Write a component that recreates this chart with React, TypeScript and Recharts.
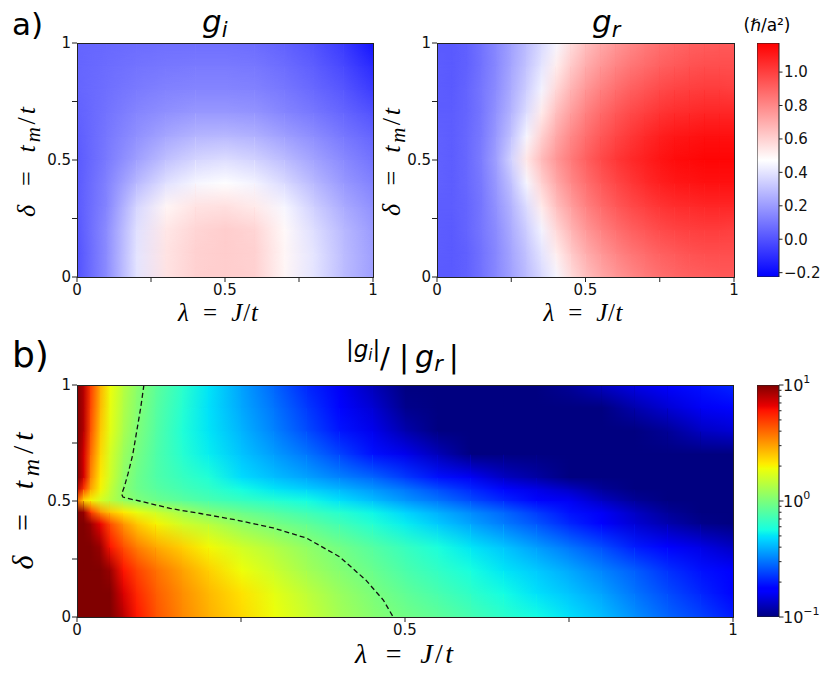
import React from 'react'
import { ScatterChart, Scatter, XAxis, YAxis, BarChart, Bar } from 'recharts'

// ---- values ----
const axisTicks = [0, 0.25, 0.5, 0.75, 1]

// a) g_i, rows from delta = 0 (bottom) to delta = 1 (top)
const lambdaGi = [0, 0.1, 0.2, 0.3, 0.4, 0.5, 0.6, 0.7, 0.8, 0.9, 1]
const deltaGi = [0, 0.1, 0.2, 0.3, 0.4, 0.5, 0.6, 0.7, 0.8, 0.9, 1]
const giGrid = [
  [0.0, 0.16, 0.4, 0.55, 0.6, 0.61, 0.6, 0.5, 0.4, 0.29, 0.21],
  [0.0, 0.16, 0.4, 0.55, 0.6, 0.61, 0.6, 0.5, 0.4, 0.29, 0.21],
  [0.01, 0.16, 0.39, 0.54, 0.59, 0.61, 0.59, 0.49, 0.38, 0.28, 0.2],
  [0.02, 0.14, 0.36, 0.5, 0.55, 0.56, 0.53, 0.45, 0.34, 0.24, 0.17],
  [0.02, 0.13, 0.28, 0.39, 0.45, 0.47, 0.44, 0.37, 0.28, 0.19, 0.13],
  [0.02, 0.11, 0.21, 0.3, 0.36, 0.38, 0.35, 0.29, 0.22, 0.15, 0.09],
  [0.03, 0.1, 0.17, 0.23, 0.27, 0.28, 0.26, 0.21, 0.16, 0.1, 0.05],
  [0.04, 0.09, 0.14, 0.17, 0.19, 0.19, 0.18, 0.14, 0.1, 0.05, 0.0],
  [0.05, 0.08, 0.11, 0.13, 0.14, 0.14, 0.13, 0.1, 0.06, 0.01, -0.06],
  [0.05, 0.07, 0.09, 0.1, 0.11, 0.11, 0.1, 0.07, 0.03, -0.03, -0.11],
  [0.05, 0.06, 0.07, 0.08, 0.08, 0.08, 0.07, 0.04, 0.0, -0.07, -0.17],
]

// a) g_r
const lambdaGr = [0, 0.05, 0.1, 0.15, 0.2, 0.25, 0.3, 0.35, 0.4, 0.45, 0.5, 0.55, 0.6, 0.65, 0.7, 0.75, 0.8, 0.85, 0.9, 0.95, 1]
const deltaGr = [0, 0.1, 0.2, 0.3, 0.4, 0.5, 0.6, 0.7, 0.8, 0.9, 1]
const grGrid = [
  [0.02, 0.02, 0.04, 0.09, 0.15, 0.22, 0.29, 0.37, 0.45, 0.57, 0.65, 0.71, 0.76, 0.8, 0.84, 0.87, 0.89, 0.91, 0.92, 0.93, 0.93],
  [0.03, 0.02, 0.04, 0.09, 0.15, 0.23, 0.31, 0.4, 0.52, 0.62, 0.7, 0.76, 0.81, 0.85, 0.88, 0.91, 0.93, 0.95, 0.96, 0.96, 0.96],
  [0.03, 0.02, 0.05, 0.1, 0.16, 0.25, 0.34, 0.44, 0.58, 0.68, 0.76, 0.82, 0.87, 0.91, 0.94, 0.97, 0.99, 1.0, 1.01, 1.01, 1.0],
  [0.03, 0.03, 0.05, 0.1, 0.18, 0.27, 0.38, 0.53, 0.65, 0.74, 0.82, 0.88, 0.93, 0.97, 1.0, 1.03, 1.05, 1.06, 1.07, 1.07, 1.07],
  [0.04, 0.03, 0.06, 0.11, 0.2, 0.31, 0.45, 0.6, 0.71, 0.8, 0.87, 0.93, 0.98, 1.02, 1.06, 1.09, 1.11, 1.12, 1.13, 1.13, 1.13],
  [0.04, 0.03, 0.06, 0.12, 0.22, 0.36, 0.54, 0.66, 0.76, 0.84, 0.91, 0.97, 1.02, 1.06, 1.09, 1.12, 1.14, 1.15, 1.16, 1.16, 1.16],
  [0.04, 0.03, 0.06, 0.11, 0.2, 0.31, 0.45, 0.6, 0.71, 0.8, 0.87, 0.93, 0.98, 1.02, 1.06, 1.09, 1.11, 1.12, 1.13, 1.13, 1.13],
  [0.03, 0.03, 0.05, 0.1, 0.18, 0.27, 0.38, 0.53, 0.65, 0.74, 0.82, 0.88, 0.93, 0.97, 1.0, 1.03, 1.05, 1.06, 1.07, 1.07, 1.07],
  [0.03, 0.02, 0.05, 0.1, 0.16, 0.25, 0.34, 0.44, 0.58, 0.68, 0.76, 0.82, 0.87, 0.91, 0.94, 0.97, 0.99, 1.0, 1.01, 1.01, 1.0],
  [0.03, 0.02, 0.04, 0.09, 0.15, 0.23, 0.31, 0.4, 0.52, 0.62, 0.7, 0.76, 0.81, 0.85, 0.88, 0.91, 0.93, 0.95, 0.96, 0.96, 0.96],
  [0.02, 0.02, 0.04, 0.09, 0.15, 0.22, 0.29, 0.37, 0.45, 0.57, 0.65, 0.71, 0.76, 0.8, 0.84, 0.87, 0.89, 0.91, 0.92, 0.93, 0.93],
]

// b) |g_i| / |g_r|
const lambdaRatio = [0, 0.01, 0.02, 0.035, 0.05, 0.07, 0.09, 0.12, 0.16, 0.2, 0.25, 0.3, 0.35, 0.4, 0.45, 0.5, 0.55, 0.6, 0.65, 0.7, 0.75, 0.8, 0.85, 0.9, 0.95, 1]
const deltaRatio = [0, 0.1, 0.2, 0.3, 0.4, 0.45, 0.5, 0.55, 0.6, 0.7, 0.8, 0.9, 1]
const ratioGrid = [
  [10, 10, 10, 10, 10, 8, 6, 4.4, 3.4, 2.8, 2.3, 1.9, 1.55, 1.25, 1.07, 0.95, 0.85, 0.74, 0.64, 0.56, 0.49, 0.42, 0.34, 0.28, 0.24, 0.2],
  [10, 10, 10, 10, 10, 7, 5.5, 4.2, 3.3, 2.7, 2.2, 1.8, 1.45, 1.18, 1.0, 0.86, 0.75, 0.65, 0.56, 0.49, 0.43, 0.37, 0.3, 0.25, 0.21, 0.18],
  [10, 10, 10, 10, 9, 6, 4.8, 3.8, 3.0, 2.4, 1.9, 1.55, 1.25, 1.05, 0.9, 0.76, 0.66, 0.57, 0.5, 0.44, 0.38, 0.32, 0.27, 0.22, 0.19, 0.17],
  [10, 10, 10, 9, 6, 4.5, 3.6, 2.9, 2.4, 1.95, 1.6, 1.35, 1.12, 0.95, 0.8, 0.68, 0.58, 0.5, 0.43, 0.36, 0.3, 0.25, 0.2, 0.17, 0.15, 0.13],
  [10, 10, 9, 6.5, 4.5, 3.2, 2.5, 2.0, 1.6, 1.4, 1.12, 0.97, 0.85, 0.72, 0.61, 0.52, 0.44, 0.37, 0.31, 0.26, 0.21, 0.17, 0.14, 0.12, 0.105, 0.095],
  [10, 9, 5, 3.2, 2.5, 2.1, 1.85, 1.55, 1.25, 1.03, 0.9, 0.8, 0.71, 0.62, 0.54, 0.46, 0.39, 0.33, 0.28, 0.23, 0.19, 0.16, 0.13, 0.11, 0.1, 0.09],
  [4, 2.3, 2.0, 1.65, 1.4, 1.15, 1.03, 0.92, 0.83, 0.75, 0.68, 0.62, 0.56, 0.49, 0.42, 0.35, 0.3, 0.25, 0.21, 0.18, 0.16, 0.13, 0.11, 0.1, 0.09, 0.085],
  [8, 5, 3, 2, 1.5, 1.08, 0.93, 0.82, 0.73, 0.66, 0.56, 0.5, 0.45, 0.4, 0.35, 0.3, 0.25, 0.21, 0.18, 0.15, 0.13, 0.11, 0.095, 0.085, 0.08, 0.08],
  [10, 7, 3.5, 2.1, 1.6, 1.12, 0.93, 0.78, 0.68, 0.6, 0.48, 0.42, 0.37, 0.32, 0.28, 0.23, 0.19, 0.16, 0.13, 0.115, 0.1, 0.09, 0.085, 0.08, 0.08, 0.08],
  [10, 7, 4, 2.3, 1.65, 1.2, 0.98, 0.78, 0.62, 0.52, 0.43, 0.36, 0.3, 0.24, 0.19, 0.155, 0.125, 0.1, 0.085, 0.075, 0.07, 0.07, 0.075, 0.08, 0.09, 0.1],
  [10, 8, 4.5, 2.5, 1.8, 1.3, 1.03, 0.8, 0.6, 0.5, 0.4, 0.32, 0.25, 0.195, 0.155, 0.12, 0.1, 0.085, 0.075, 0.07, 0.07, 0.075, 0.09, 0.11, 0.13, 0.14],
  [10, 8, 4.8, 2.7, 1.85, 1.35, 1.07, 0.82, 0.62, 0.49, 0.38, 0.3, 0.23, 0.18, 0.14, 0.105, 0.09, 0.08, 0.07, 0.065, 0.08, 0.095, 0.12, 0.14, 0.16, 0.18],
  [10, 8, 5, 2.8, 1.9, 1.4, 1.1, 0.85, 0.64, 0.5, 0.37, 0.28, 0.21, 0.16, 0.125, 0.1, 0.09, 0.08, 0.075, 0.085, 0.11, 0.13, 0.15, 0.17, 0.19, 0.21],
]

// dashed line where the ratio equals 1
const contourLambda = [0.102, 0.097, 0.091, 0.085, 0.078, 0.072, 0.068, 0.07, 0.076, 0.1, 0.142, 0.19, 0.243, 0.299, 0.35, 0.4, 0.44, 0.467, 0.482]
const contourDelta = [1.0, 0.9, 0.8, 0.7, 0.62, 0.56, 0.53, 0.517, 0.512, 0.497, 0.468, 0.445, 0.418, 0.384, 0.34, 0.26, 0.16, 0.073, 0.0]

// colorbars
const gRange = [-0.226, 1.174]
const gTicks = [-0.2, 0, 0.2, 0.4, 0.6, 0.8, 1.0]
const ratioRange = [0.1, 10]
const ratioTicks = [0.1, 0.2, 0.3, 0.4, 0.5, 0.6, 0.7, 0.8, 0.9, 1, 2, 3, 4, 5, 6, 7, 8, 9, 10]

// ---- colormaps ----
const clamp = (t: number) => Math.max(0, Math.min(1, t))
const rgb = (r: number, g: number, b: number) =>
  `rgb(${Math.round(r * 255)},${Math.round(g * 255)},${Math.round(b * 255)})`

const bwr = (v: number) => {
  const t = clamp((v - gRange[0]) / (gRange[1] - gRange[0]))
  return t < 0.5 ? rgb(2 * t, 2 * t, 1) : rgb(1, 2 - 2 * t, 2 - 2 * t)
}

const JET_R = [[0, 0], [0.35, 0], [0.66, 1], [0.89, 1], [1, 0.5]]
const JET_G = [[0, 0], [0.125, 0], [0.375, 1], [0.64, 1], [0.91, 0], [1, 0]]
const JET_B = [[0, 0.5], [0.11, 1], [0.34, 1], [0.65, 0], [1, 0]]
const piece = (pts: number[][], t: number) => {
  for (let k = 0; k < pts.length - 1; k++) {
    const [t0, c0] = pts[k]
    const [t1, c1] = pts[k + 1]
    if (t <= t1) return c0 + ((c1 - c0) * (t - t0)) / (t1 - t0)
  }
  return pts[pts.length - 1][1]
}
const jetT = (t: number) => rgb(piece(JET_R, t), piece(JET_G, t), piece(JET_B, t))
const logLo = Math.log10(ratioRange[0])
const logHi = Math.log10(ratioRange[1])
const jet = (v: number) => jetT(clamp((Math.log10(v) - logLo) / (logHi - logLo)))
const jetStops = [0, 0.11, 0.125, 0.34, 0.35, 0.375, 0.5, 0.64, 0.65, 0.66, 0.89, 0.91, 1]

// ---- layout ----
const YW = 40
const XH = 30
const PAD = 12
const INK = '#222'
const SANS = 'DejaVu Sans'
const SERIF = 'Liberation Serif'

const tickFmt = (v: number) => (v === 0.25 || v === 0.75 ? '' : v === 0.5 ? '0.5' : String(v))

function RowGradients({ id, grid, color }: { id: string; grid: number[][]; color: (v: number) => string }) {
  return (
    <>
      {grid.map((row, j) =>
        row.slice(0, -1).map((v, i) => (
          <linearGradient key={`${id}-${j}-${i}`} id={`${id}-${j}-${i}`} x1="0" y1="0" x2="1" y2="0">
            <stop offset="0" stopColor={color(v)} />
            <stop offset="1" stopColor={color(row[i + 1])} />
          </linearGradient>
        ))
      )}
    </>
  )
}

interface HeatProps {
  id: string
  xs: number[]
  ys: number[]
  left: number
  top: number
  w: number
  h: number
  children?: React.ReactNode
}

function HeatPanel({ id, xs, ys, left, top, w, h, children }: HeatProps) {
  const cells: any[] = []
  for (let j = 0; j < ys.length - 1; j++) {
    for (let i = 0; i < xs.length - 1; i++) {
      cells.push({ x: xs[i], y: ys[j], x2: xs[i + 1], y2: ys[j + 1], lo: `${id}-${j}-${i}`, hi: `${id}-${j + 1}-${i}` })
    }
  }
  // each cell blends its lower row into its upper row
  const cell = (p: any) => {
    const d = p.payload
    const cw = (d.x2 - d.x) * w
    const ch = (d.y2 - d.y) * h
    const ex = d.x2 < 1 ? 1.2 : 0
    const ey = d.y2 < 1 ? 1.2 : 0
    const r = { x: p.cx, y: p.cy - ch - ey, width: cw + ex, height: ch + ey }
    return (
      <g>
        <rect {...r} fill={`url(#${d.lo})`} />
        <rect {...r} fill={`url(#${d.hi})`} mask="url(#fadeUp)" />
      </g>
    )
  }
  const tick = { fontSize: 15, fill: '#111', fontFamily: SANS }
  return (
    <div style={{ position: 'absolute', left: left - YW, top: top - PAD }}>
      <ScatterChart width={YW + w + PAD} height={PAD + h + XH} margin={{ top: PAD, right: PAD, bottom: 0, left: 0 }}>
        <XAxis type="number" dataKey="x" domain={[0, 1]} ticks={axisTicks} interval={0} tickFormatter={tickFmt}
          tickSize={5} tickMargin={2} height={XH} axisLine={false} tickLine={{ stroke: INK }} tick={tick} />
        <YAxis type="number" dataKey="y" domain={[0, 1]} ticks={axisTicks} interval={0} tickFormatter={tickFmt}
          tickSize={5} tickMargin={1} width={YW} axisLine={false} tickLine={{ stroke: INK }} tick={tick} />
        <Scatter data={cells} shape={cell} isAnimationActive={false} />
        {children}
      </ScatterChart>
      <div style={{ position: 'absolute', left: YW - 0.5, top: PAD - 0.5, width: w + 1, height: h + 1,
        border: `1px solid ${INK}`, boxSizing: 'border-box', pointerEvents: 'none' }} />
    </div>
  )
}

interface BarProps {
  left: number
  top: number
  w: number
  h: number
  domain: number[]
  ticks: number[]
  grad: string
  tick: (p: any) => React.ReactElement
}

function ColorBar({ left, top, w, h, domain, ticks, grad, tick }: BarProps) {
  const data = [{ name: 'cb', span: domain }]
  return (
    <div style={{ position: 'absolute', left, top: top - PAD }}>
      <BarChart width={w + 60} height={h + 2 * PAD} data={data} barCategoryGap={0}
        margin={{ top: PAD, right: 0, bottom: PAD, left: 0 }}>
        <XAxis dataKey="name" hide />
        <YAxis orientation="right" type="number" domain={domain} ticks={ticks} interval={0} width={60}
          tickSize={0} tickMargin={0} axisLine={false} tickLine={false} tick={tick} allowDataOverflow />
        <Bar dataKey="span" fill={`url(#${grad})`} stroke={INK} strokeWidth={1} isAnimationActive={false} />
      </BarChart>
    </div>
  )
}

const gTick = (p: any) => {
  const v = p.payload.value
  const label = v < 0 ? `\u2212${Math.abs(v).toFixed(1)}` : v.toFixed(1)
  return (
    <g>
      <line x1={p.x} x2={p.x + 3.5} y1={p.y} y2={p.y} stroke={INK} />
      <text x={p.x + 5} y={p.y} dy="0.36em" fontSize={15} fill="#111" fontFamily={SANS}>{label}</text>
    </g>
  )
}

// the jet bar runs on log10 of the ratio
const ratioTick = (p: any) => {
  const e = p.payload.value
  const major = Math.abs(e - Math.round(e)) < 1e-6
  const n = Math.round(e)
  return (
    <g>
      <line x1={p.x} x2={p.x + (major ? 4.5 : 2.5)} y1={p.y} y2={p.y} stroke={INK} />
      {major && (
        <text x={p.x + 4} y={p.y} dy="0.36em" fontSize={16} fill="#111" fontFamily={SANS}>
          10<tspan fontSize={11} dy="-0.7em">{n < 0 ? `\u2212${Math.abs(n)}` : n}</tspan>
        </text>
      )}
    </g>
  )
}

function MathLabel({ x, y, size, len, rotate, kind }: { x: number; y: number; size: number; len: number; rotate?: boolean; kind: 'lambda' | 'delta' }) {
  const it = { fontStyle: 'italic' as const }
  return (
    <text transform={`translate(${x},${y})${rotate ? ' rotate(-90)' : ''}`} textAnchor="middle" fontSize={size}
      fontFamily={SERIF} fill="#000" textLength={len} lengthAdjust="spacing">
      {kind === 'lambda' ? (
        <>
          <tspan {...it}>λ</tspan><tspan>{'\u2002=\u2002'}</tspan><tspan {...it}>J</tspan><tspan>/</tspan><tspan {...it}>t</tspan>
        </>
      ) : (
        <>
          <tspan {...it}>δ</tspan><tspan>{'\u2002=\u2002'}</tspan><tspan {...it}>t</tspan>
          <tspan {...it} fontSize={size * 0.8} dy={size * 0.2}>m</tspan>
          <tspan dy={-size * 0.2}>/</tspan><tspan {...it}>t</tspan>
        </>
      )}
    </text>
  )
}

export default function App() {
  const contour = contourLambda.map((x, k) => ({ x, y: contourDelta[k] }))
  const ratioTicksLog = ratioTicks.map((v) => Math.log10(v))
  return (
    <div style={{ position: 'absolute', left: 0, top: 0, width: 830, height: 679, background: '#fff', overflow: 'hidden' }}>
      <svg width={0} height={0} style={{ position: 'absolute' }}>
        <defs>
          <linearGradient id="fadeUpGrad" x1="0" y1="1" x2="0" y2="0">
            <stop offset="0" stopColor="#fff" stopOpacity={0} />
            <stop offset="1" stopColor="#fff" stopOpacity={1} />
          </linearGradient>
          <mask id="fadeUp" maskContentUnits="objectBoundingBox" style={{ maskType: 'alpha' } as any}>
            <rect x="0" y="0" width="1" height="1" fill="url(#fadeUpGrad)" />
          </mask>
          <RowGradients id="gi" grid={giGrid} color={bwr} />
          <RowGradients id="gr" grid={grGrid} color={bwr} />
          <RowGradients id="ratio" grid={ratioGrid} color={jet} />
          <linearGradient id="bwrBar" x1="0" y1="1" x2="0" y2="0">
            <stop offset="0" stopColor={bwr(gRange[0])} />
            <stop offset="0.5" stopColor={bwr((gRange[0] + gRange[1]) / 2)} />
            <stop offset="1" stopColor={bwr(gRange[1])} />
          </linearGradient>
          <linearGradient id="jetBar" x1="0" y1="1" x2="0" y2="0">
            {jetStops.map((t) => <stop key={t} offset={t} stopColor={jetT(t)} />)}
          </linearGradient>
        </defs>
      </svg>

      <HeatPanel id="gi" xs={lambdaGi} ys={deltaGi} left={77} top={43} w={296} h={234} />
      <HeatPanel id="gr" xs={lambdaGr} ys={deltaGr} left={437} top={43} w={297} h={234} />
      <HeatPanel id="ratio" xs={lambdaRatio} ys={deltaRatio} left={77} top={385} w={656} h={232}>
        <Scatter data={contour} shape={() => <g />} line={{ stroke: '#111', strokeWidth: 1.3, strokeDasharray: '5 3' }}
          lineType="joint" isAnimationActive={false} />
      </HeatPanel>

      <ColorBar left={757} top={43} w={22} h={234} domain={gRange} ticks={gTicks} grad="bwrBar" tick={gTick} />
      <ColorBar left={757} top={385} w={22} h={232} domain={[logLo, logHi]} ticks={ratioTicksLog} grad="jetBar" tick={ratioTick} />

      <svg width={830} height={679} style={{ position: 'absolute', left: 0, top: 0, pointerEvents: 'none' }}>
        <text x={12} y={35} fontSize={31} fontFamily={SANS} fill="#000">a)</text>
        <text x={12} y={367} fontSize={36} fontFamily={SANS} fill="#000">b)</text>

        <text x={202} y={32} fontSize={31} fontFamily={SANS} fill="#000">
          <tspan fontStyle="italic">g</tspan><tspan fontStyle="italic" fontSize={21} dy={5}>i</tspan>
        </text>
        <text x={592} y={32} fontSize={31} fontFamily={SANS} fill="#000">
          <tspan fontStyle="italic">g</tspan><tspan fontStyle="italic" fontSize={21} dy={5}>r</tspan>
        </text>

        <text x={346} y={357} fontSize={23} fontFamily={SANS} fill="#000">
          |<tspan fontStyle="italic">g</tspan><tspan fontStyle="italic" fontSize={15} dy={3}>i</tspan><tspan dy={-3}>|</tspan>
        </text>
        <text x={380} y={368} fontSize={29} fontFamily={SANS} fill="#000">/</text>
        <text x={399} y={367} fontSize={30} fontFamily={SANS} fill="#000">
          |{'\u2009'}<tspan fontStyle="italic">g</tspan><tspan fontStyle="italic" fontSize={21} dy={4}>r</tspan><tspan dy={-4}>{'\u2009|'}</tspan>
        </text>

        <text x={767} y={31} textAnchor="middle" fontSize={17} fontFamily={SANS} fill="#000">
          (<tspan fontStyle="italic">ℏ</tspan>/a²)
        </text>

        <MathLabel kind="lambda" x={218} y={321} size={25} len={80} />
        <MathLabel kind="lambda" x={583} y={321} size={25} len={79} />
        <MathLabel kind="lambda" x={404} y={663} size={28} len={98} />
        <MathLabel kind="delta" x={35} y={162} size={26} len={110} rotate />
        <MathLabel kind="delta" x={400} y={162} size={26} len={108} rotate />
        <MathLabel kind="delta" x={33} y={501} size={30} len={137} rotate />
      </svg>
    </div>
  )
}
